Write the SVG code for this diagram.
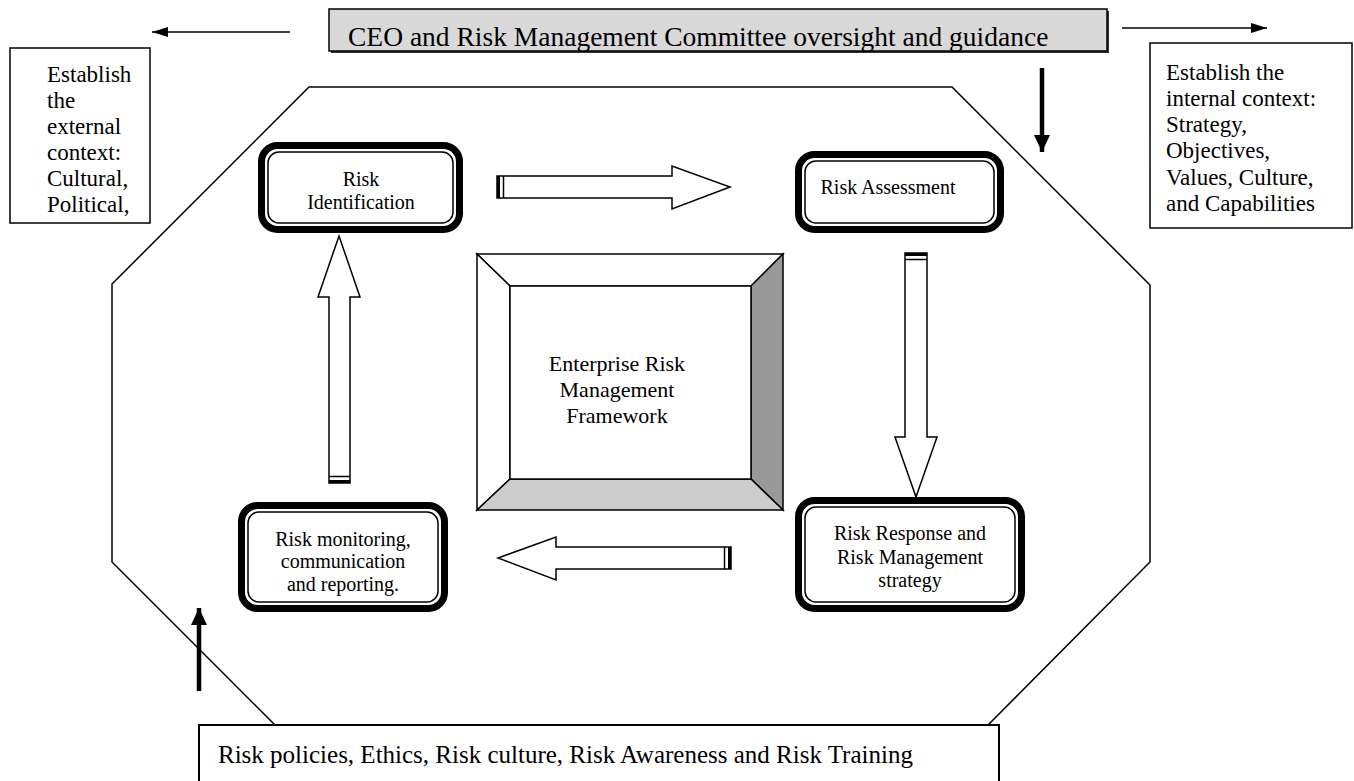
<svg xmlns="http://www.w3.org/2000/svg" width="1354" height="781" viewBox="0 0 1354 781">
  <style>
    text { font-family: "Liberation Serif", "Times New Roman", serif; fill: #000; }
    .box { fill: #fff; stroke: #000; stroke-width: 1.5; }
    .node-outer { fill: #fff; stroke: #000; stroke-width: 7; }
    .node-inner { fill: none; stroke: #000; stroke-width: 1.5; }
    .node-text { font-size: 20px; text-anchor: middle; }
    .ctx-text { font-size: 23px; }
    .block { fill: #fff; stroke: #000; stroke-width: 1.5; stroke-linejoin: miter; }
    .tail { stroke: #000; stroke-width: 1.5; fill: none; }
    .tail-bold { stroke: #000; stroke-width: 3; fill: none; }
    .thin { stroke: #000; stroke-width: 1.5; fill: none; }
    .thick { stroke: #000; stroke-width: 4.5; fill: none; }
    .bevel { stroke: #000; stroke-width: 1.5; stroke-linejoin: miter; }
  </style>
  <defs>
    <marker id="head-thin" markerUnits="userSpaceOnUse" viewBox="0 0 16 10" refX="16" refY="5" markerWidth="16" markerHeight="10" orient="auto">
      <path d="M0,0 L16,5 L0,10 Z" fill="#000"/>
    </marker>
    <marker id="head-thick" markerUnits="userSpaceOnUse" viewBox="0 0 17 16" refX="17" refY="8" markerWidth="17" markerHeight="16" orient="auto">
      <path d="M0,0 L17,8 L0,16 Z" fill="#000"/>
    </marker>
  </defs>

  <!-- outer octagonal boundary -->
  <g id="boundary">
    <polygon points="309,87 952,87 1150,285 1150,562 988,725 275,725 112,562 112,284" fill="none" stroke="#000" stroke-width="1.5"/>
  </g>

  <!-- oversight banner -->
  <g id="oversight">
    <rect x="331" y="11" width="778" height="42" fill="#333"/>
    <rect x="329" y="9" width="778" height="42" fill="#d9d9d9" stroke="#000" stroke-width="1.5"/>
    <text x="348" y="46" font-size="27.5">CEO and Risk Management Committee oversight and guidance</text>
  </g>

  <!-- external context -->
  <g id="external-context">
    <rect class="box" x="10" y="48" width="140" height="175"/>
    <text class="ctx-text" x="47" y="82">Establish</text>
    <text class="ctx-text" x="47" y="108">the</text>
    <text class="ctx-text" x="47" y="134">external</text>
    <text class="ctx-text" x="47" y="160">context:</text>
    <text class="ctx-text" x="47" y="186">Cultural,</text>
    <text class="ctx-text" x="47" y="212">Political,</text>
  </g>

  <!-- internal context -->
  <g id="internal-context">
    <rect class="box" x="1150" y="43" width="202" height="185"/>
    <text class="ctx-text" x="1166" y="80">Establish the</text>
    <text class="ctx-text" x="1166" y="106">internal context:</text>
    <text class="ctx-text" x="1166" y="132">Strategy,</text>
    <text class="ctx-text" x="1166" y="158">Objectives,</text>
    <text class="ctx-text" x="1166" y="185">Values, Culture,</text>
    <text class="ctx-text" x="1166" y="211">and Capabilities</text>
  </g>

  <!-- central framework panel -->
  <g id="framework">
    <polygon class="bevel" points="477,254 783,254 751,286 510,286" fill="#fff"/>
    <polygon class="bevel" points="477,254 510,286 510,479 477,510" fill="#fff"/>
    <polygon class="bevel" points="783,254 783,510 751,479 751,286" fill="#999"/>
    <polygon class="bevel" points="477,510 783,510 751,479 510,479" fill="#ccc"/>
    <rect class="bevel" x="510" y="286" width="241" height="193" fill="#fff"/>
    <text x="617" y="371" font-size="22" text-anchor="middle">Enterprise Risk</text>
    <text x="617" y="397" font-size="22" text-anchor="middle">Management</text>
    <text x="617" y="423" font-size="22" text-anchor="middle">Framework</text>
  </g>

  <!-- process steps -->
  <g id="risk-identification">
    <rect class="node-outer" x="261.5" y="145.5" width="198" height="84" rx="16"/>
    <rect class="node-inner" x="268" y="152" width="185" height="71" rx="11"/>
    <text class="node-text" x="361" y="186">Risk</text>
    <text class="node-text" x="361" y="209">Identification</text>
  </g>

  <g id="risk-assessment">
    <rect class="node-outer" x="798.5" y="154.5" width="202" height="75" rx="16"/>
    <rect class="node-inner" x="805" y="161" width="189" height="62" rx="11"/>
    <text class="node-text" x="888" y="194">Risk Assessment</text>
  </g>

  <g id="risk-response">
    <rect class="node-outer" x="798.5" y="500.5" width="223" height="108" rx="16"/>
    <rect class="node-inner" x="805" y="507" width="210" height="95" rx="11"/>
    <text class="node-text" x="910" y="540">Risk Response and</text>
    <text class="node-text" x="910" y="564">Risk Management</text>
    <text class="node-text" x="910" y="587">strategy</text>
  </g>

  <g id="risk-monitoring">
    <rect class="node-outer" x="241.5" y="505.5" width="203" height="103" rx="16"/>
    <rect class="node-inner" x="248" y="512" width="190" height="90" rx="11"/>
    <text class="node-text" x="343" y="546">Risk monitoring,</text>
    <text class="node-text" x="343" y="568">communication</text>
    <text class="node-text" x="343" y="591">and reporting.</text>
  </g>

  <!-- policies foundation -->
  <g id="policies">
    <rect x="199" y="725" width="800" height="70" fill="#fff" stroke="#000" stroke-width="2"/>
    <text x="218" y="763" font-size="25">Risk policies, Ethics, Risk culture, Risk Awareness and Risk Training</text>
  </g>

  <!-- connectors -->
  <g id="connectors">
    <!-- cycle block arrows -->
    <path class="block" d="M497,176 L672,176 L672,166 L730,187 L672,209 L672,198 L497,198 Z"/>
    <path class="tail-bold" d="M498.5,176 V198"/>
    <path class="tail" d="M503.5,176 V198"/>

    <path class="block" d="M905,253 L905,437 L895,437 L916,497 L937,437 L927,437 L927,253 Z"/>
    <path class="tail-bold" d="M905,254.5 H927"/>
    <path class="tail" d="M905,259.5 H927"/>

    <path class="block" d="M731,547 L556,547 L556,537 L498,558 L556,580 L556,569 L731,569 Z"/>
    <path class="tail-bold" d="M729.5,547 V569"/>
    <path class="tail" d="M724.5,547 V569"/>

    <path class="block" d="M329,483 L329,297 L318,297 L339,236 L360,297 L350,297 L350,483 Z"/>
    <path class="tail-bold" d="M329,481.5 H350"/>
    <path class="tail" d="M329,476.5 H350"/>

    <!-- context and oversight arrows -->
    <line class="thin" x1="290" y1="32" x2="152" y2="32" marker-end="url(#head-thin)"/>
    <line class="thin" x1="1122" y1="28" x2="1267" y2="28" marker-end="url(#head-thin)"/>
    <line class="thick" x1="1042" y1="68" x2="1042" y2="152" marker-end="url(#head-thick)"/>
    <line class="thick" x1="199" y1="691" x2="199" y2="608" marker-end="url(#head-thick)"/>
  </g>
</svg>
